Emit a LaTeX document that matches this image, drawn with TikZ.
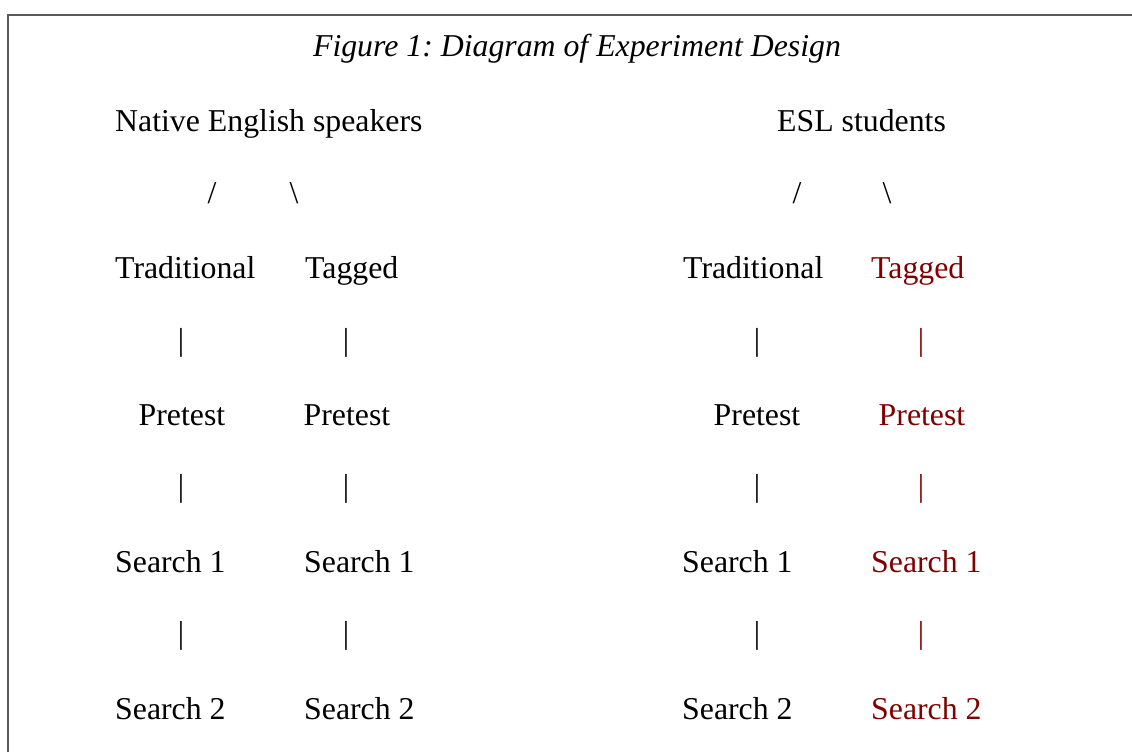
\documentclass[tikz,border=0pt]{standalone}
\usepackage{fontspec}
\setmainfont{Liberation Serif}
\usetikzlibrary{positioning}
\definecolor{eslred}{RGB}{128,0,0}
\frenchspacing

\begin{document}
\begin{tikzpicture}[x=1pt, y=-1pt,
    every node/.style={inner sep=0pt, font=\fontsize{31.8}{38}\selectfont},
    lbl/.style={anchor=base west},
    glyph/.style={anchor=center},
    hl/.style={text=eslred}]
        % Page frame
        \useasboundingbox (0,0) rectangle (1132,752);
        \draw [line width=1.5pt, black!65] (8,752) -- (8,15) -- (1132,15);

        % Title
        \node (title) [anchor=base] at (577,57) {\itshape Figure 1: Diagram of Experiment Design};

        % Groups
        \node (native) [lbl] at (115,131) {Native English speakers};
        \node (esl)    [lbl] at (777,131) {ESL students};
        \node (nl) [glyph] at (212,193) {/};
        \node (nr) [glyph] at (294,193) {\textbackslash};
        \node (el) [glyph] at (797,193) {/};
        \node (er) [glyph] at (887,193) {\textbackslash};

        % Conditions
        \node (trad1) [lbl] at (115,278) {Traditional};
        \node (tag1)  [lbl] at (305,278) {Tagged};
        \node (trad2) [lbl] at (683,278) {Traditional};
        \node (tag2)  [lbl, hl] at (871,278) {Tagged};

        \node (b11) [glyph] at (181,343) {|};
        \node (b12) [glyph] at (346,343) {|};
        \node (b13) [glyph] at (757,343) {|};
        \node (b14) [glyph, hl] at (921,343) {|};

        % Pretests
        \node (pre1) [anchor=base] at (182,425) {Pretest};
        \node (pre2) [anchor=base] at (347,425) {Pretest};
        \node (pre3) [anchor=base] at (757,425) {Pretest};
        \node (pre4) [anchor=base, hl] at (922,425) {Pretest};

        \node (b21) [glyph] at (181,489) {|};
        \node (b22) [glyph] at (346,489) {|};
        \node (b23) [glyph] at (757,489) {|};
        \node (b24) [glyph, hl] at (921,489) {|};

        % First search
        \node (sa1) [lbl] at (115,572) {Search 1};
        \node (sa2) [lbl] at (304,572) {Search 1};
        \node (sa3) [lbl] at (682,572) {Search 1};
        \node (sa4) [lbl, hl] at (871,572) {Search 1};

        \node (b31) [glyph] at (181,636) {|};
        \node (b32) [glyph] at (346,636) {|};
        \node (b33) [glyph] at (757,636) {|};
        \node (b34) [glyph, hl] at (921,636) {|};

        % Second search
        \node (sb1) [lbl] at (115,719) {Search 2};
        \node (sb2) [lbl] at (304,719) {Search 2};
        \node (sb3) [lbl] at (682,719) {Search 2};
        \node (sb4) [lbl, hl] at (871,719) {Search 2};
    \end{tikzpicture}
\end{document}
